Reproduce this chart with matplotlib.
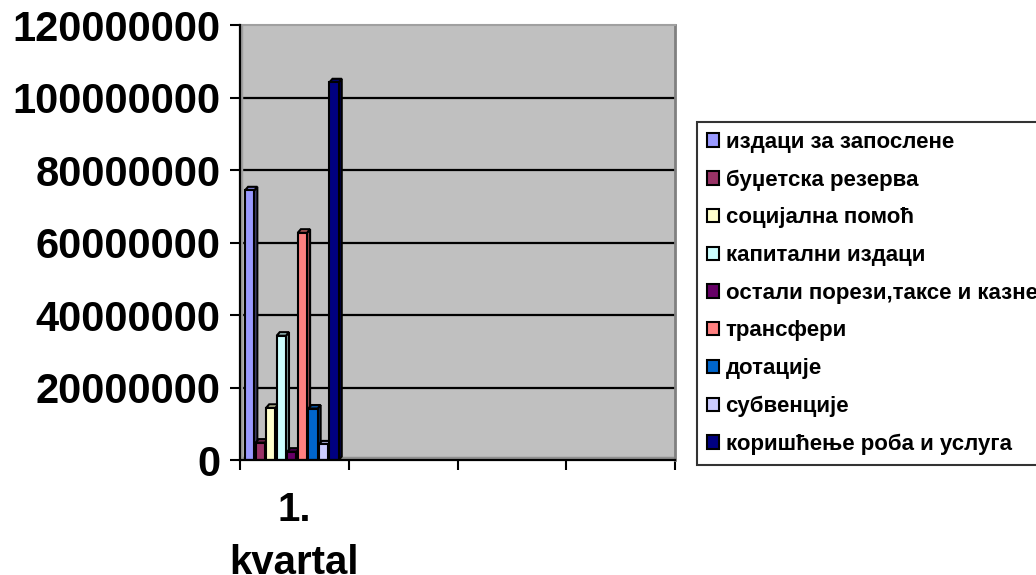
import matplotlib
matplotlib.use("Agg")
import matplotlib.pyplot as plt
from matplotlib.patches import Polygon, Rectangle
from matplotlib.colors import to_rgb

# data
categories = ["1.\nkvartal", "", "", ""]
series_names = [
    "издаци за запослене",
    "буџетска резерва",
    "социјална помоћ",
    "капитални издаци",
    "остали порези,таксе и казне",
    "трансфери",
    "дотације",
    "субвенције",
    "коришћење роба и услуга",
]
series_values = [74400000, 4800000, 14400000, 34300000, 2300000,
                 62700000, 14200000, 4300000, 104200000]
series_colors = ["#9999FF", "#993366", "#FFFFCC", "#CCFFFF", "#660066",
                 "#FF8080", "#0066CC", "#CCCCFF", "#000080"]
y_ticks = [0, 20000000, 40000000, 60000000, 80000000, 100000000, 120000000]

plt.rcParams['font.family'] = ['Liberation Sans', 'DejaVu Sans']

fig = plt.figure(figsize=(10.36, 5.75), dpi=100, facecolor='white')
ax = fig.add_axes([0.2317, 0.2, 0.42, 0.7565])
ax.set_facecolor('#C0C0C0')

ymax = 120000000
ax.set_xlim(0, len(categories))
ax.set_ylim(0, ymax)

# gridlines
for yv in y_ticks[1:-1]:
    ax.axhline(yv, color='black', lw=1.6, zorder=1)

# 3D-ish bars: front face plus top and right side
slot = 0.097
start = 0.046
w = 0.085
dx = 0.028
dy = ymax * 3.5 / 435

# floor / wall strips of the 3D plot area
ax.axhline(dy * 0.6, color='#909090', lw=2.5, zorder=1)
ax.axvline(0.012, color='#A0A0A0', lw=2.5, zorder=1)


def darker(c, f):
    r, g, b = to_rgb(c)
    return (r * f, g * f, b * f)


for i, (name, val, col) in enumerate(zip(series_names, series_values, series_colors)):
    x0 = start + i * slot
    top = Polygon([(x0, val), (x0 + dx, val + dy), (x0 + w + dx, val + dy), (x0 + w, val)],
                  closed=True, facecolor=darker(col, 0.8), edgecolor='black', lw=1.5, zorder=3)
    side = Polygon([(x0 + w, 0), (x0 + w + dx, dy), (x0 + w + dx, val + dy), (x0 + w, val)],
                   closed=True, facecolor=darker(col, 0.6), edgecolor='black', lw=1.5, zorder=3)
    front = Rectangle((x0, 0), w, val, facecolor=col, edgecolor='black', lw=1.5,
                      zorder=4, label=name)
    ax.add_patch(side)
    ax.add_patch(top)
    ax.add_patch(front)

# spines
ax.spines['left'].set_color('black')
ax.spines['left'].set_linewidth(1.6)
ax.spines['bottom'].set_color('black')
ax.spines['bottom'].set_linewidth(1.6)
ax.spines['right'].set_color('#808080')
ax.spines['right'].set_linewidth(2)
ax.spines['top'].set_color('#A0A0A0')
ax.spines['top'].set_linewidth(1.5)
ax.spines['left'].set_zorder(5)
ax.spines['bottom'].set_zorder(5)

# y axis
ax.set_yticks(y_ticks)
ax.set_yticklabels([str(v) for v in y_ticks], fontsize=30, fontweight='bold')
ax.tick_params(axis='y', direction='out', length=7, width=1.5, pad=7)

# x axis: ticks at category boundaries, labels centered
ax.set_xticks(range(len(categories) + 1))
ax.set_xticklabels([])
ax.tick_params(axis='x', which='major', direction='out', length=7, width=1.5)
ax.set_xticks([i + 0.5 for i in range(len(categories))], minor=True)
ax.set_xticklabels(categories, minor=True, fontsize=29, fontweight='bold', linespacing=1.5)
ax.tick_params(axis='x', which='minor', length=0, pad=22)

leg = fig.legend(loc='upper left', bbox_to_anchor=(0.6725, 0.788), ncol=1,
                 prop={'size': 16, 'weight': 'bold'}, frameon=True, fancybox=False,
                 edgecolor='black', handlelength=0.55, handleheight=0.55,
                 handletextpad=0.3, labelspacing=0.75, borderpad=0.45,
                 borderaxespad=0)
leg.get_frame().set_linewidth(1.5)

fig.savefig('out.png', dpi=100, facecolor='white')
